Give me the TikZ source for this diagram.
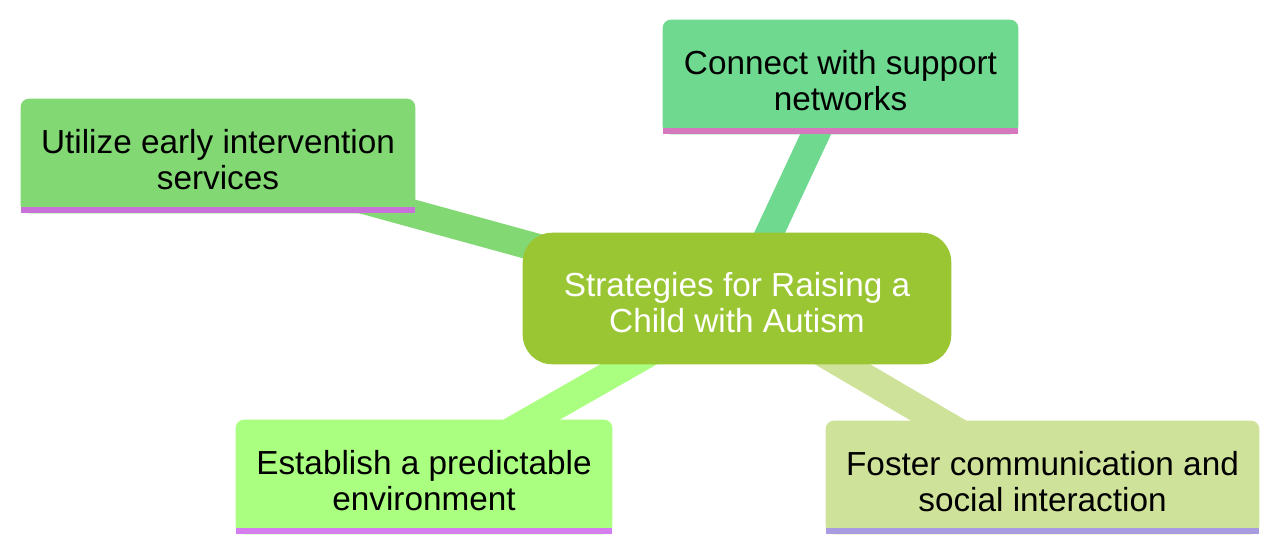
\documentclass[tikz,border=0pt]{standalone}
\usepackage{fontspec}
\setmainfont{Liberation Sans}
\pgfdeclarelayer{bg}
\pgfdeclarelayer{edges}
\pgfdeclarelayer{boxes}
\pgfsetlayers{bg,edges,boxes,main}
\definecolor{cRoot}{HTML}{9BC634}
\definecolor{cU}{HTML}{82D873}
\definecolor{cC}{HTML}{6FD990}
\definecolor{cE}{HTML}{AAFF80}
\definecolor{cF}{HTML}{CFE29A}
\definecolor{bU}{HTML}{C871D8}
\definecolor{bC}{HTML}{D678BE}
\definecolor{bE}{HTML}{D47EF0}
\definecolor{bF}{HTML}{A99BDF}
\tikzset{
  leaf/.style={inner sep=0pt, align=center, text=black,
    font=\fontsize{25}{27}\selectfont, minimum height=85.5pt},
  rootnode/.style={inner sep=0pt, align=center, text=white,
    font=\fontsize{25}{27}\selectfont, minimum width=321pt, minimum height=98.25pt},
  edge/.style={line width=21pt},
}
\newcommand{\leafbox}[3]{%
  \fill[#2, rounded corners=6pt] ([yshift=3pt]#1.south west) rectangle ([yshift=3pt]#1.north east);
  \fill[#2] ([yshift=3pt]#1.south west) rectangle ([yshift=20pt]#1.east);
  \fill[#3] ([yshift=3pt]#1.south west) rectangle ([yshift=7.5pt]#1.south east);
}
\begin{document}
\begin{tikzpicture}[x=0.75pt,y=-0.75pt]
\begin{pgfonlayer}{bg}
\fill[white] (0,0) rectangle (1280,553);
\end{pgfonlayer}
\useasboundingbox (0,0) rectangle (1280,553);
\node[rootnode] (root) at (737,302.5) {Strategies for Raising a\\Child with Autism};
\node[leaf, minimum width=295.5pt] (u) at (218,160) {Utilize early intervention\\services};
\node[leaf, minimum width=266.25pt] (c) at (840.5,81) {Connect with support\\networks};
\node[leaf, minimum width=282pt] (e) at (424,481) {Establish a predictable\\environment};
\node[leaf, minimum width=324.75pt, minimum height=84.75pt] (f) at (1042.5,481.5) {Foster communication and\\social interaction};
\begin{pgfonlayer}{edges}
  \draw[edge, cU] (root.center) -- (u.center);
  \draw[edge, cC] (root.center) -- (c.center);
  \draw[edge, cE] (root.center) -- (e.center);
  \draw[edge, cF] (root.center) -- (f.center);
\end{pgfonlayer}
\begin{pgfonlayer}{boxes}
  \fill[cRoot, rounded corners=22pt] ([yshift=3pt]root.south west) rectangle ([yshift=3pt]root.north east);
  \leafbox{u}{cU}{bU}
  \leafbox{c}{cC}{bC}
  \leafbox{e}{cE}{bE}
  \leafbox{f}{cF}{bF}
\end{pgfonlayer}
\end{tikzpicture}
\end{document}
